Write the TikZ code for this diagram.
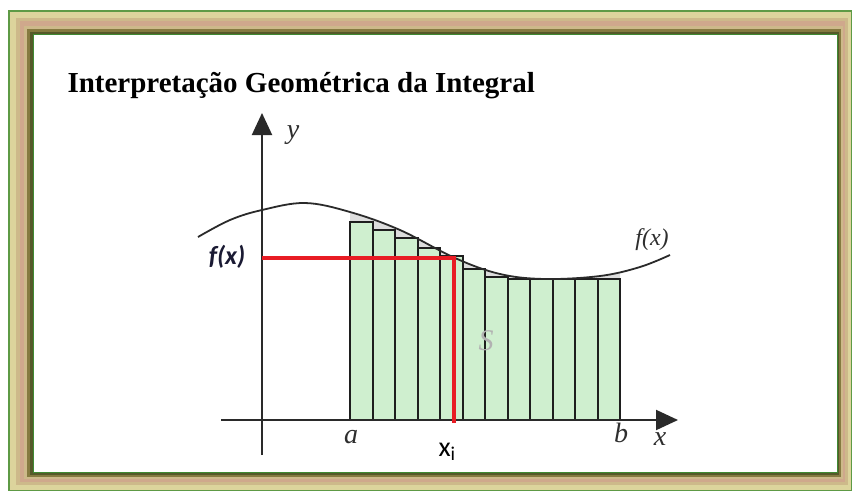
\documentclass[tikz,border=0pt]{standalone}
\usepackage{fontspec}
\usepackage{tikz}
\usetikzlibrary{arrows.meta, positioning, calc}
\newfontfamily\calibrifont{Carlito}
\newfontfamily\timesfont{Liberation Serif}
\definecolor{framegreen}{HTML}{5E9A45}
\definecolor{framelight}{HTML}{DCD49C}
\definecolor{frametan}{HTML}{CDB98A}
\definecolor{framepink}{HTML}{CFA88C}
\definecolor{frameolive}{HTML}{857A40}
\definecolor{framebrown}{HTML}{55592A}
\definecolor{framedark}{HTML}{3F8A33}
\definecolor{stripfill}{HTML}{CFEFCF}
\definecolor{stripedge}{HTML}{1E1E1E}
\definecolor{gapgray}{HTML}{DDDDDD}
\definecolor{axisgray}{HTML}{2A2A2A}
\definecolor{markred}{HTML}{E81C24}
\definecolor{labelgray}{HTML}{2E2E2E}
\definecolor{fxnavy}{HTML}{1A1A33}
\def\fcurve{plot[smooth, tension=0.6] coordinates {(198,237) (230,220) (262,210) (305,203) (350,212) (400,230) (455,258) (500,274) (545,279) (600,276) (640,267) (670,255)}}

\begin{document}
\begin{tikzpicture}[x=1pt, y=-1pt,
    axis/.style={line width=2pt, color=axisgray, -{Triangle[length=22pt, width=20pt]}},
    strip/.style={draw=stripedge, line width=2pt, fill=stripfill},
    marker/.style={line width=3.6pt, color=markred},
    mathlbl/.style={font=\timesfont\itshape\fontsize{28}{28}\selectfont, color=labelgray, anchor=base},
]
\useasboundingbox (0,0) rectangle (854,491);

% frame
\coordinate (fo1) at (8,10);
\coordinate (fo2) at (852,491);
\coordinate (fi1) at (34,35);
\coordinate (fi2) at (837,472);
\foreach \t/\c in {0/framegreen, 0.07/framelight, 0.3/frametan, 0.45/framepink, 0.62/frametan, 0.74/frameolive, 0.86/framebrown, 0.95/framedark}
  \fill[fill=\c] ($(fo1)!\t!(fi1)$) rectangle ($(fo2)!\t!(fi2)$);
\fill[white] (fi1) rectangle (fi2);

\node[anchor=base west, font=\timesfont\bfseries\fontsize{29}{29}\selectfont] (title) at (64,92) {Interpretação Geométrica da Integral};

% area under the curve
\begin{scope}
  \clip (350,150) rectangle (620,420);
  \fill[gapgray] \fcurve -- (670,420) -- (198,420) -- cycle;
\end{scope}
\foreach \h [count=\i from 0] in {222,230,238,248,256,269,277,279,279,279,279,279}
  \draw[strip] ({350+22.5*\i},420) rectangle ({372.5+22.5*\i},\h);
\draw[line width=1.8pt, color=axisgray] \fcurve;

% axes
\coordinate (xstart) at (221,420);
\coordinate (xend) at (678,420);
\coordinate (ystart) at (262,455);
\coordinate (yend) at (262,113);
\draw[axis] (xstart) -- (xend);
\draw[axis] (ystart) -- (yend);

% f(x_i)
\coordinate (fxpt) at (262,258);
\coordinate (curvept) at (454,258);
\coordinate (xipt) at (454,423);
\draw[marker] (fxpt) -- (curvept) -- (xipt);

\node[mathlbl] (ylbl) at (293,138) {y};
\node[mathlbl, font=\timesfont\itshape\fontsize{24}{24}\selectfont] (fxcurve) at (652,245) {f(x)};
\node[mathlbl] (albl) at (351,443) {a};
\node[mathlbl] (blbl) at (621,442) {b};
\node[mathlbl] (xlbl) at (660,445) {x};
\node[mathlbl, color=gray!60, font=\timesfont\itshape\fontsize{30}{30}\selectfont] (area) at (486,350) {S};
\node[anchor=base west, font=\calibrifont\fontsize{28}{28}\selectfont] (xilbl) at (435,456) {x\textsubscript{i}};
\node[anchor=base, font=\calibrifont\bfseries\itshape\fontsize{26}{26}\selectfont, color=fxnavy] (fxlbl) at (227,264) {f(x)};
\end{tikzpicture}
\end{document}
